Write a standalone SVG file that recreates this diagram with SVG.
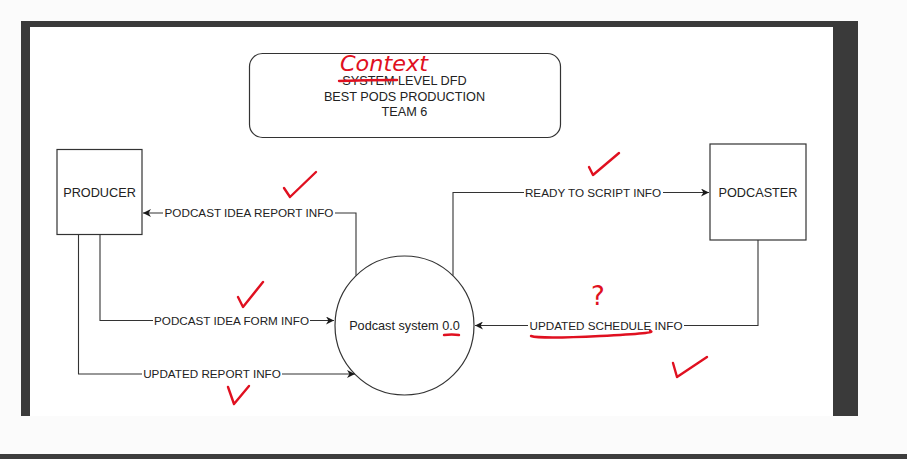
<svg xmlns="http://www.w3.org/2000/svg" width="907" height="459" viewBox="0 0 907 459">
<defs>
<marker id="arr" viewBox="0 0 10 10" refX="10" refY="5" markerWidth="8" markerHeight="8" markerUnits="userSpaceOnUse" orient="auto">
<path d="M0,0 L10,5 L0,10 L3,5 Z" fill="#1a1a1a"/>
</marker>
</defs>
<style>
.box{fill:#fff;stroke:#333;stroke-width:1.2}
.nt{font-family:"Liberation Sans",Arial,sans-serif;font-size:12.7px;fill:#222;text-anchor:middle}
.lbl{font-family:"Liberation Sans",Arial,sans-serif;font-size:11.7px;fill:#222;text-anchor:middle}
.ln{fill:none;stroke:#333;stroke-width:1.1}
.bg{fill:#fff}
.red{fill:none;stroke:#e01020;stroke-width:2.4;stroke-linecap:round;stroke-linejoin:round}
.redt{font-family:"DejaVu Sans",sans-serif;fill:#e01020}
</style>
<rect x="0" y="0" width="907" height="459" fill="#fbfbfb"/>
<rect x="21" y="21" width="837" height="395" fill="#3a3a3a"/>
<rect x="30" y="27" width="803" height="389" fill="#fff"/>
<rect x="0" y="454" width="907" height="5" fill="#3d3d3d"/>

<g id="title">
<rect x="249.5" y="53.5" width="311" height="84" rx="13" class="box"/>
<text x="404.5" y="85" class="nt">SYSTEM LEVEL DFD</text>
<text x="404.5" y="100.5" class="nt">BEST PODS PRODUCTION</text>
<text x="404.5" y="116" class="nt">TEAM 6</text>
</g>

<g id="producer">
<rect x="57" y="149.5" width="85" height="85" class="box"/>
<text x="99.5" y="196.5" class="nt">PRODUCER</text>
</g>

<g id="podcaster">
<rect x="710" y="144" width="96" height="96" class="box"/>
<text x="758" y="196.5" class="nt">PODCASTER</text>
</g>

<g id="process">
<circle cx="404.5" cy="325.5" r="69.5" class="box"/>
<text x="404.5" y="330" class="nt">Podcast system 0.0</text>
</g>

<g id="connectors">
<path d="M356,275.5 V213 H143" class="ln" marker-end="url(#arr)"/>
<rect x="163" y="207" width="172" height="12" class="bg"/>
<text x="249" y="217.2" class="lbl">PODCAST IDEA REPORT INFO</text>

<path d="M453,275.5 V192.5 H709" class="ln" marker-end="url(#arr)"/>
<rect x="524" y="186.5" width="139" height="12" class="bg"/>
<text x="593" y="196.7" class="lbl">READY TO SCRIPT INFO</text>

<path d="M100,235 V320.5 H334" class="ln" marker-end="url(#arr)"/>
<rect x="153" y="314.5" width="157" height="12" class="bg"/>
<text x="231.5" y="324.7" class="lbl">PODCAST IDEA FORM INFO</text>

<path d="M78.5,235 V374 H355" class="ln" marker-end="url(#arr)"/>
<rect x="142" y="368" width="140" height="12" class="bg"/>
<text x="212" y="378.2" class="lbl">UPDATED REPORT INFO</text>

<path d="M758,240 V325.5 H475" class="ln" marker-end="url(#arr)"/>
<rect x="528" y="319.5" width="156" height="12" class="bg"/>
<text x="606" y="329.7" class="lbl">UPDATED SCHEDULE INFO</text>
</g>

<g id="annotations">
<text x="340" y="70.5" class="redt" font-size="21" font-style="italic" textLength="88" lengthAdjust="spacingAndGlyphs">Context</text>
<path d="M339,81 Q368,80 397,80" class="red"/>
<path d="M284,188 L290,197 L316,172" class="red"/>
<path d="M589,167 L593,175 L619,153" class="red"/>
<path d="M238,297 L243,307 L263,282" class="red"/>
<path d="M228,387 L234,404 L249,386" class="red"/>
<path d="M673,363 L677,377 L707,357" class="red"/>
<text x="598" y="305" class="redt" font-size="26" text-anchor="middle">?</text>
<path d="M531,336 Q540,339 600,336 T650,331" class="red"/>
<path d="M444,335 Q452,334 459,335" class="red"/>
</g>
</svg>
